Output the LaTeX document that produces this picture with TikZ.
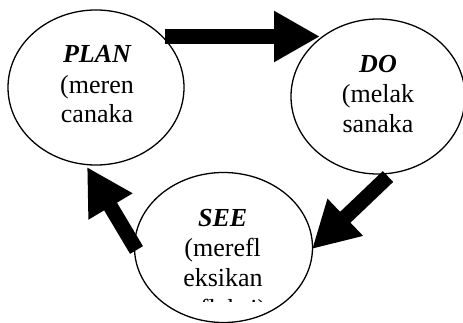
\documentclass[tikz,border=0pt]{standalone}
\usepackage{fontspec}
\setmainfont{Liberation Serif}
\usetikzlibrary{shapes.geometric,arrows.meta}
\tikzset{
  phase/.style={ellipse,draw=black,line width=1.3pt,minimum width=176pt,minimum height=155pt,inner sep=0pt},
  ttl/.style={anchor=base,inner sep=0pt,font=\fontsize{26}{30}\selectfont\bfseries\itshape},
  txt/.style={anchor=base,inner sep=0pt,font=\fontsize{26}{30}\selectfont},
  blockarrow/.style={line width=15pt,draw=black,-{Triangle[length=46pt,width=48pt]}}
}
\begin{document}
\begin{tikzpicture}[x=1pt,y=-1pt]
\useasboundingbox (0,0) rectangle (463,323);
% ellipses
\node[phase] (plan) at (96,87.5) {};
\node[phase,minimum width=174pt] (do) at (378,96.5) {};
\node[phase,minimum width=178pt,minimum height=150pt] (see) at (223.5,247.5) {};
% texts
\node[ttl] (plant) at (97,63) {PLAN};
\node[txt] (plan1) at (97,94) {(meren};
\node[txt] (plan2) at (97,123) {canaka};
\node[ttl] (dot) at (378,72.7) {DO};
\node[txt] (do1) at (378,103) {(melak};
\node[txt] (do2) at (378,133) {sanaka};
\node[ttl] (seet) at (222.7,226.7) {SEE};
\node[txt] (see1) at (222.7,256.7) {(merefl};
\node[txt] (see2) at (223,286.7) {eksikan};
\begin{scope}
  \clip (140,290) rectangle (310,301.5);
  \node[txt] (see3) at (223,317.5) {refleksi)};
\end{scope}
% arrows
\coordinate (a1s) at (165,36.5);
\coordinate (a1e) at (320,36.5);
\coordinate (a2s) at (388,176.5);
\coordinate (a2e) at (312,249);
\coordinate (a3s) at (136.5,250);
\coordinate (a3e) at (87,167);
\draw[blockarrow] (a1s) -- (a1e);
\draw[blockarrow] (a2s) -- (a2e);
\draw[blockarrow] (a3s) -- (a3e);
\end{tikzpicture}
\end{document}
